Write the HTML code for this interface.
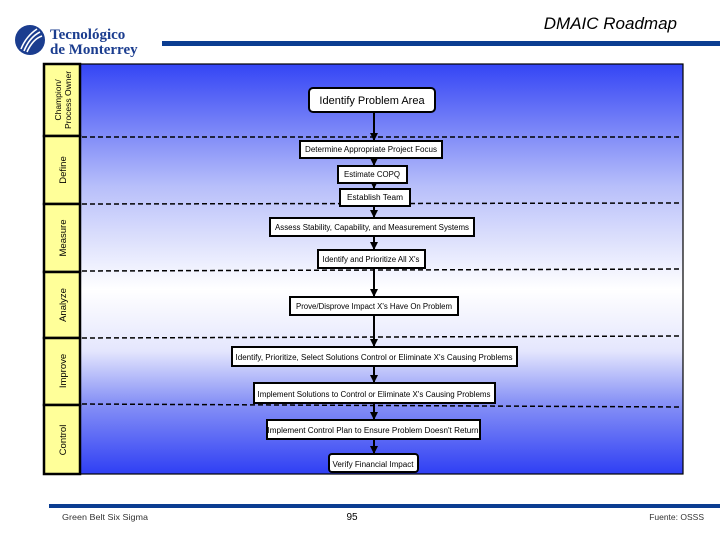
<!DOCTYPE html>
<html><head><meta charset="utf-8"><style>
html,body{margin:0;padding:0;background:#fff;}
svg{display:block;font-family:"Liberation Sans",sans-serif;}
</style></head><body>
<svg width="720" height="540" viewBox="0 0 720 540" xmlns="http://www.w3.org/2000/svg">
<defs>
<linearGradient id="g" x1="0" y1="0" x2="0" y2="1">
<stop offset="0" stop-color="#3445f5"/>
<stop offset="0.3" stop-color="#b8bffa"/>
<stop offset="0.55" stop-color="#ffffff"/>
<stop offset="0.7" stop-color="#e4e6fd"/>
<stop offset="0.82" stop-color="#8b95f6"/>
<stop offset="1" stop-color="#2f3ff4"/>
</linearGradient>
<marker id="a" markerWidth="8" markerHeight="8" refX="7" refY="4" orient="auto" markerUnits="userSpaceOnUse"><path d="M0,0 L8,4 L0,8 Z" fill="#000"/></marker>
</defs>
<!-- logo -->
<circle cx="30" cy="40" r="15" fill="#1b3d8f"/>
<path d="M21,49 C25,39 31,33 37,29 M24,51 C28,41 34,35 40,32 M27,52 C31,43 36,38 42,36" stroke="#fff" stroke-width="1.6" fill="none"/>
<text x="50" y="39" font-family="Liberation Serif,serif" font-size="15" font-weight="bold" fill="#1b3d8f">Tecnológico</text>
<text x="50" y="54" font-family="Liberation Serif,serif" font-size="15" font-weight="bold" fill="#1b3d8f">de Monterrey</text>
<rect x="162" y="41" width="558" height="5" fill="#0b3d91"/>
<text x="677" y="29" font-size="17" font-style="italic" text-anchor="end">DMAIC Roadmap</text>
<!-- frame -->
<rect x="80" y="64" width="603" height="410" fill="url(#g)" stroke="#000" stroke-width="1.2"/>
<g fill="#ffff99" stroke="#000" stroke-width="2.5">
<rect x="44" y="64" width="36" height="72"/>
<rect x="44" y="136" width="36" height="68"/>
<rect x="44" y="204" width="36" height="68"/>
<rect x="44" y="272" width="36" height="66"/>
<rect x="44" y="338" width="36" height="67"/>
<rect x="44" y="405" width="36" height="69"/>
</g>
<g font-size="9.5" text-anchor="middle" fill="#000">
<text transform="translate(61,100) rotate(-90)" font-size="8.5">Champion/</text>
<text transform="translate(71,100) rotate(-90)" font-size="8.5">Process Owner</text>
<text transform="translate(66,170) rotate(-90)">Define</text>
<text transform="translate(66,238) rotate(-90)">Measure</text>
<text transform="translate(66,305) rotate(-90)">Analyze</text>
<text transform="translate(66,371) rotate(-90)">Improve</text>
<text transform="translate(66,440) rotate(-90)">Control</text>
</g>
<g stroke="#000" stroke-width="1.5" stroke-dasharray="5,3">
<line x1="82" y1="137" x2="682" y2="137"/>
<line x1="82" y1="204" x2="682" y2="203"/>
<line x1="82" y1="271" x2="682" y2="269"/>
<line x1="82" y1="338" x2="682" y2="336"/>
<line x1="82" y1="404" x2="682" y2="407"/>
</g>
<!-- connectors -->
<g stroke="#000" stroke-width="2" fill="none">
<line x1="374" y1="112" x2="374" y2="140" marker-end="url(#a)"/>
<line x1="374" y1="158" x2="374" y2="165" marker-end="url(#a)"/>
<line x1="374" y1="183" x2="374" y2="188" marker-end="url(#a)"/>
<line x1="374" y1="206" x2="374" y2="217" marker-end="url(#a)"/>
<line x1="374" y1="236" x2="374" y2="249" marker-end="url(#a)"/>
<line x1="374" y1="268" x2="374" y2="296" marker-end="url(#a)"/>
<line x1="374" y1="315" x2="374" y2="346" marker-end="url(#a)"/>
<line x1="374" y1="366" x2="374" y2="382" marker-end="url(#a)"/>
<line x1="374" y1="403" x2="374" y2="419" marker-end="url(#a)"/>
<line x1="374" y1="439" x2="374" y2="453" marker-end="url(#a)"/>
</g>
<!-- boxes -->
<g fill="#fff" stroke="#000" stroke-width="2">
<rect x="309" y="88" width="126" height="24" rx="4"/>
<rect x="300" y="141" width="142" height="17"/>
<rect x="338" y="166" width="69" height="17"/>
<rect x="340" y="189" width="70" height="17"/>
<rect x="270" y="218" width="204" height="18"/>
<rect x="318" y="250" width="107" height="18"/>
<rect x="290" y="297" width="168" height="18"/>
<rect x="232" y="347" width="285" height="19"/>
<rect x="254" y="383" width="241" height="20"/>
<rect x="267" y="420" width="213" height="19"/>
<rect x="329" y="454" width="89" height="18" rx="3"/>
</g>
<g font-size="8" text-anchor="middle" fill="#000">
<text x="372" y="104" font-size="11">Identify Problem Area</text>
<text x="371" y="152" textLength="132" lengthAdjust="spacingAndGlyphs">Determine Appropriate Project Focus</text>
<text x="372" y="177" textLength="56" lengthAdjust="spacingAndGlyphs">Estimate COPQ</text>
<text x="375" y="200" textLength="56" lengthAdjust="spacingAndGlyphs">Establish Team</text>
<text x="372" y="230" textLength="194" lengthAdjust="spacingAndGlyphs">Assess Stability, Capability, and Measurement Systems</text>
<text x="371" y="262" textLength="97" lengthAdjust="spacingAndGlyphs">Identify and Prioritize All X's</text>
<text x="374" y="309" textLength="156" lengthAdjust="spacingAndGlyphs">Prove/Disprove Impact X's Have On Problem</text>
<text x="374" y="360" textLength="277" lengthAdjust="spacingAndGlyphs">Identify, Prioritize, Select Solutions Control or Eliminate X's Causing Problems</text>
<text x="374" y="397" textLength="233" lengthAdjust="spacingAndGlyphs">Implement Solutions to Control or Eliminate X's Causing Problems</text>
<text x="373" y="433" textLength="211" lengthAdjust="spacingAndGlyphs">Implement Control Plan to Ensure Problem Doesn't Return</text>
<text x="373" y="467" textLength="81" lengthAdjust="spacingAndGlyphs">Verify Financial Impact</text>
</g>
<!-- footer -->
<rect x="49" y="504" width="671" height="4" fill="#0b3d91"/>
<text x="62" y="520" font-size="8.5" fill="#333" textLength="86" lengthAdjust="spacingAndGlyphs">Green Belt Six Sigma</text>
<text x="352" y="520" font-size="10" text-anchor="middle">95</text>
<text x="704" y="520" font-size="8.5" fill="#333" text-anchor="end">Fuente: OSSS</text>
</svg>
</body></html>
